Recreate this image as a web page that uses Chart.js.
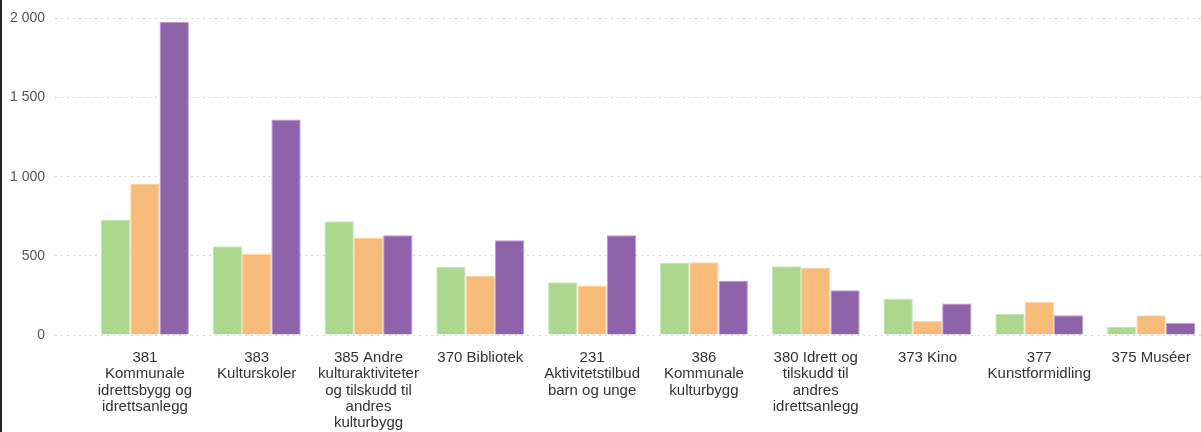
<!DOCTYPE html>
<html>
<head>
<meta charset="utf-8">
<script src="https://cdn.jsdelivr.net/npm/chart.js@4"></script>
<style>
  html, body { margin: 0; padding: 0; background: #ffffff; overflow: hidden; width: 1201px; height: 432px; }
  #wrap { position: absolute; left: 0; top: 0; width: 1207px; height: 432px; }
  #edge { position: absolute; left: 0; top: 0; width: 2px; height: 432px; background: #252423; z-index: 5; }
</style>
</head>
<body>
<div id="wrap"><canvas id="c" width="1207" height="432"></canvas></div>
<div id="edge"></div>
<script>
const categories = [
  ["381", "Kommunale", "idrettsbygg og", "idrettsanlegg"],
  ["383", "Kulturskoler"],
  ["385 Andre", "kulturaktiviteter", "og tilskudd til", "andres", "kulturbygg"],
  ["370 Bibliotek"],
  ["231", "Aktivitetstilbud", "barn og unge"],
  ["386", "Kommunale", "kulturbygg"],
  ["380 Idrett og", "tilskudd til", "andres", "idrettsanlegg"],
  ["373 Kino"],
  ["377", "Kunstformidling"],
  ["375 Muséer"]
];
const seriesGreen  = [727, 561, 718, 430, 334, 457, 435, 231, 132, 52];
const seriesOrange = [957, 513, 616, 376, 313, 459, 427, 90, 210, 124];
const seriesPurple = [1979, 1361, 630, 599, 630, 342, 283, 199, 124, 76];
const yTicks = [0, 500, 1000, 1500, 2000];

const fmt = v => String(v).replace(/\B(?=(\d{3})+(?!\d))/g, ' ');

new Chart(document.getElementById('c'), {
  type: 'bar',
  data: {
    labels: categories,
    datasets: [
      { label: 'Serie 1', data: seriesGreen,  backgroundColor: '#abd78e', borderColor: '#c8e6b3', borderWidth: 1 },
      { label: 'Serie 2', data: seriesOrange, backgroundColor: '#f7bc7a', borderColor: '#fad3a6', borderWidth: 1 },
      { label: 'Serie 3', data: seriesPurple, backgroundColor: '#8e63a9', borderColor: '#b89cca', borderWidth: 1 }
    ]
  },
  options: {
    responsive: false,
    animation: false,
    devicePixelRatio: 1,
    layout: { padding: { top: 16, left: 0, right: 0, bottom: 0 } },
    plugins: { legend: { display: false }, tooltip: { enabled: false } },
    datasets: { bar: { categoryPercentage: 0.787, barPercentage: 1.0 } },
    scales: {
      x: {
        offset: true,
        grid: { display: false },
        border: { display: false },
        ticks: {
          maxRotation: 0, minRotation: 0, autoSkip: false,
          color: '#333333', padding: 7,
          font: { family: '"Liberation Sans", Arial, sans-serif', size: 15, lineHeight: 1.08 }
        },
        afterFit: s => { s.height = 97; }
      },
      y: {
        min: 0, max: 2000,
        afterBuildTicks: s => { s.ticks = yTicks.map(v => ({ value: v })); },
        grid: {
          color: '#d4d4d4', lineWidth: 1,
          drawTicks: true, tickLength: 34,
          tickColor: '#d4d4d4', tickBorderDash: [2, 4]
        },
        border: { display: false, dash: [2, 4] },
        ticks: {
          color: '#555555', padding: 10,
          font: { family: '"Liberation Sans", Arial, sans-serif', size: 14 },
          callback: v => fmt(v)
        },
        afterFit: s => { s.width = 89; }
      }
    }
  }
});
</script>
</body>
</html>
